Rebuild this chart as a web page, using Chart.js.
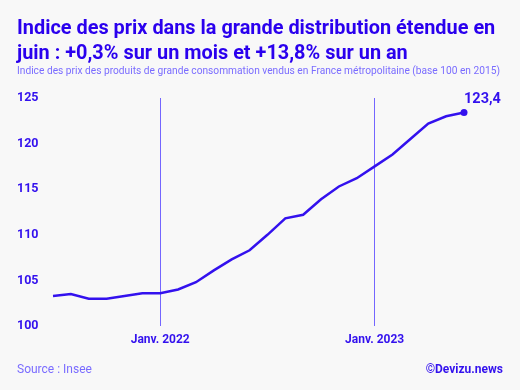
<!DOCTYPE html>
<html>
<head>
<meta charset="utf-8">
<script src="https://cdn.jsdelivr.net/npm/chart.js@4"></script>
<style>
  html, body { margin:0; padding:0; background:#f8f8f8; }
  body { width:520px; height:390px; position:relative; overflow:hidden; font-family: Roboto, "Noto Sans", sans-serif; }
  #title { position:absolute; left:17px; top:15px; width:500px; font-weight:700; font-size:19.9px; line-height:25px; color:#2a00ee; white-space:nowrap; }
  #subtitle { position:absolute; left:17px; top:65px; font-size:10.2px; color:#7a6cff; white-space:nowrap; }
  #source { position:absolute; left:17px; top:362px; font-size:12px; color:#7a6cff; }
  #credit { position:absolute; right:17px; top:362px; font-size:12px; font-weight:700; color:#3311ee; }
  #wrap { position:absolute; left:0; top:0; width:520px; height:390px; }
</style>
</head>
<body>
<div id="wrap"><canvas id="c"></canvas></div>
<div id="title">Indice des prix dans la grande distribution étendue en<br>juin : +0,3% sur un mois et +13,8% sur un an</div>
<div id="subtitle">Indice des prix des produits de grande consommation vendus en France métropolitaine (base 100 en 2015)</div>
<div id="source">Source : Insee</div>
<div id="credit">©Devizu.news</div>
<script>
const months = ["Juil. 2021","Août 2021","Sept. 2021","Oct. 2021","Nov. 2021","Déc. 2021",
  "Janv. 2022","Févr. 2022","Mars 2022","Avr. 2022","Mai 2022","Juin 2022",
  "Juil. 2022","Août 2022","Sept. 2022","Oct. 2022","Nov. 2022","Déc. 2022",
  "Janv. 2023","Févr. 2023","Mars 2023","Avr. 2023","Mai 2023","Juin 2023"];
const indexValues = [103.3,103.5,103.0,103.0,103.3,103.6,
  103.6,104.0,104.8,106.1,107.3,108.3,
  110.0,111.8,112.2,113.9,115.3,116.2,
  117.5,118.8,120.5,122.2,123.0,123.4];
const yTicks = [100,105,110,115,120,125];
const lastLabel = "123,4";

const BLUE = '#3311ee';
const lastIdx = indexValues.length - 1;

const endLabel = {
  id: 'endLabel',
  afterDatasetsDraw(chart) {
    const meta = chart.getDatasetMeta(0);
    const p = meta.data[lastIdx];
    const ctx = chart.ctx;
    ctx.save();
    ctx.font = '700 14.5px Roboto, sans-serif';
    ctx.fillStyle = BLUE;
    ctx.textAlign = 'left';
    ctx.textBaseline = 'alphabetic';
    ctx.fillText(lastLabel, p.x, p.y - 10);
    ctx.restore();
  }
};

new Chart(document.getElementById('c'), {
  type: 'line',
  data: {
    labels: months,
    datasets: [{
      data: indexValues,
      borderColor: BLUE,
      backgroundColor: BLUE,
      borderWidth: 2.5,
      tension: 0,
      pointRadius: c => c.dataIndex === lastIdx ? 3.5 : 0,
      pointHoverRadius: 0,
      pointBorderWidth: 0,
      clip: false
    }]
  },
  options: {
    responsive: true,
    maintainAspectRatio: false,
    animation: false,
    layout: { padding: { top: 98, left: 17, right: 56, bottom: 42 } },
    plugins: { legend: { display: false }, tooltip: { enabled: false } },
    scales: {
      x: {
        offset: false,
        border: { display: false },
        afterFit: s => { s.height = 22; },
        grid: {
          drawTicks: false,
          lineWidth: 1,
          color: c => (months[c.index] || '').startsWith('Janv') ? '#7466ff' : 'rgba(0,0,0,0)'
        },
        ticks: {
          autoSkip: false,
          maxRotation: 0,
          padding: 7,
          color: BLUE,
          font: { family: 'Roboto', weight: '700', size: 12 },
          callback: function(v, i) { return months[i].startsWith('Janv') ? months[i] : ''; }
        }
      },
      y: {
        min: 100, max: 125,
        afterBuildTicks: s => { s.ticks = yTicks.map(v => ({ value: v })); },
        afterFit: s => { s.width = 36; },
        border: { display: false },
        grid: { display: false, drawTicks: false },
        ticks: {
          crossAlign: 'far',
          padding: 14,
          color: BLUE,
          font: { family: 'Roboto', weight: '700', size: 12.5 }
        }
      }
    }
  },
  plugins: [endLabel]
});
</script>
</body>
</html>
